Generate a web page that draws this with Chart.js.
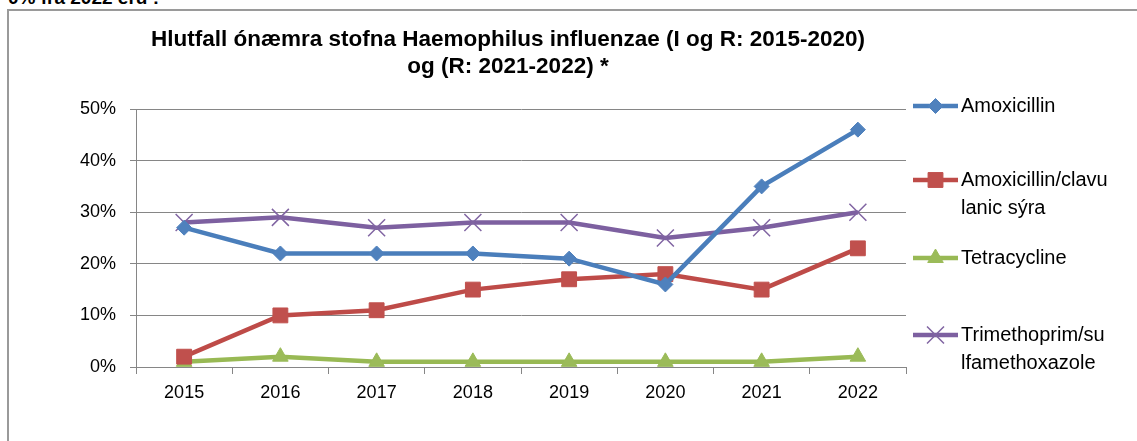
<!DOCTYPE html>
<html>
<head>
<meta charset="utf-8">
<script src="https://cdn.jsdelivr.net/npm/chart.js@4"></script>
<style>
  html, body { margin: 0; padding: 0; background: #fff; overflow: hidden; }
  body { width: 1137px; height: 441px; position: relative; }
  #cut { position: absolute; left: 8px; top: -13px; font: bold 19px "Liberation Sans", Arial, sans-serif; color: #000; white-space: nowrap; }
  #frame { position: absolute; left: 7px; top: 9px; width: 1200px; height: 500px; border: 2px solid #9a9a9a; box-sizing: border-box; }
  #wrap { position: absolute; left: 0; top: 0; width: 1137px; height: 441px; }
</style>
</head>
<body>
<div id="cut">0% frá 2022 eru :</div>
<div id="frame"></div>
<div id="wrap"><canvas id="c" width="1137" height="441"></canvas></div>
<script>
const categories = ["2015", "2016", "2017", "2018", "2019", "2020", "2021", "2022"];
const seriesNames = ["Amoxicillin", "Amoxicillin/clavulanic sýra", "Tetracycline", "Trimethoprim/sulfamethoxazole"];
const legendLines = [["Amoxicillin"], ["Amoxicillin/clavu", "lanic sýra"], ["Tetracycline"], ["Trimethoprim/su", "lfamethoxazole"]];
const amoxicillin = [0.27, 0.22, 0.22, 0.22, 0.21, 0.16, 0.35, 0.46];
const amoxClav = [0.02, 0.10, 0.11, 0.15, 0.17, 0.18, 0.15, 0.23];
const tetracycline = [0.01, 0.02, 0.01, 0.01, 0.01, 0.01, 0.01, 0.02];
const trimSulfa = [0.28, 0.29, 0.27, 0.28, 0.28, 0.25, 0.27, 0.30];
const yTicks = [0, 0.1, 0.2, 0.3, 0.4, 0.5];
const titleLines = ["Hlutfall ónæmra stofna Haemophilus influenzae (I og R: 2015-2020)", "og (R: 2021-2022) *"];

const FONT = '"Liberation Sans", Arial, sans-serif';

const styles = [
  { line: "#4A7EBB", fill: "#4F81BD", point: "rectRot", r: 7.5, pbw: 1 },
  { line: "#BE4B48", fill: "#C0504D", point: "rect", r: 10.5, pbw: 1 },
  { line: "#98B954", fill: "#9BBB59", point: "triangle", r: 9, pbw: 1 },
  { line: "#7D60A0", fill: "#8064A2", point: "crossRot", r: 12, pbw: 1.5 }
];
const seriesData = [amoxicillin, amoxClav, tetracycline, trimSulfa];

const datasets = seriesData.map((d, i) => ({
  label: seriesNames[i],
  data: d,
  borderColor: styles[i].line,
  backgroundColor: styles[i].fill,
  borderWidth: 4.5,
  pointStyle: styles[i].point,
  pointRadius: styles[i].r,
  pointHoverRadius: styles[i].r,
  pointBackgroundColor: styles[i].fill,
  pointBorderColor: styles[i].fill,
  pointBorderWidth: styles[i].pbw,
  tension: 0,
  fill: false,
  order: i
}));

const LEGEND_Y = [106, 180, 258, 335];

const overlay = {
  id: "overlay",
  afterDraw(chart) {
    const ctx = chart.ctx;
    ctx.save();
    // title
    ctx.fillStyle = "#000";
    ctx.font = "bold 22.5px " + FONT;
    ctx.textAlign = "center";
    ctx.textBaseline = "alphabetic";
    ctx.fillText(titleLines[0], 508, 46);
    ctx.fillText(titleLines[1], 508, 73);
    ctx.restore();
    // legend
    chart.data.datasets.forEach((ds, i) => {
      const y = LEGEND_Y[i];
      ctx.save();
      ctx.strokeStyle = ds.borderColor;
      ctx.lineWidth = 4.5;
      ctx.beginPath();
      ctx.moveTo(913, y);
      ctx.lineTo(958, y);
      ctx.stroke();
      ctx.fillStyle = ds.pointBackgroundColor;
      ctx.strokeStyle = ds.pointBorderColor;
      ctx.lineWidth = ds.pointBorderWidth;
      Chart.helpers.drawPoint(ctx, { pointStyle: ds.pointStyle, radius: ds.pointRadius, rotation: 0, borderWidth: ds.pointBorderWidth }, 935.5, y);
      ctx.restore();
      ctx.save();
      ctx.fillStyle = "#000";
      ctx.font = "20px " + FONT;
      ctx.textAlign = "left";
      ctx.textBaseline = "middle";
      legendLines[i].forEach((t, k) => ctx.fillText(t, 961, y + k * 28));
      ctx.restore();
    });
  }
};

new Chart(document.getElementById("c"), {
  type: "line",
  data: { labels: categories, datasets: datasets },
  options: {
    responsive: false,
    animation: false,
    events: [],
    layout: { padding: { left: 0, top: 109, right: 231, bottom: 34 } },
    plugins: {
      legend: { display: false },
      title: { display: false },
      tooltip: { enabled: false }
    },
    scales: {
      x: {
        offset: true,
        afterFit: (s) => { s.height = 40; },
        grid: { display: true, drawOnChartArea: false, drawTicks: true, tickLength: 7, color: "#868686", offset: true, lineWidth: 1 },
        border: { display: true, color: "#868686", width: 1 },
        ticks: { color: "#000", font: { family: FONT, size: 18 }, padding: 8, maxRotation: 0 }
      },
      y: {
        min: 0,
        max: 0.5,
        afterFit: (s) => { s.width = 136; },
        afterBuildTicks: (s) => { s.ticks = yTicks.map(v => ({ value: v })); },
        grid: { display: true, drawOnChartArea: true, drawTicks: true, tickLength: 6, color: "#868686", lineWidth: 1 },
        border: { display: true, color: "#868686", width: 1 },
        ticks: { color: "#000", font: { family: FONT, size: 18 }, padding: 14, callback: (v) => Math.round(v * 100) + "%" }
      }
    }
  }
  ,plugins: [overlay]
});
</script>
</body>
</html>
